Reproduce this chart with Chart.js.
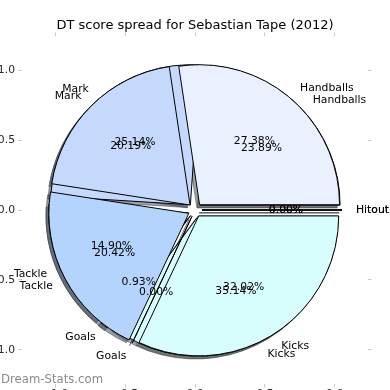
<!DOCTYPE html>
<html><head><meta charset="utf-8">
<style>
html,body{margin:0;padding:0;width:390px;height:390px;overflow:hidden;background:#fff;}
#wrap{position:absolute;left:-20px;top:0;width:430px;height:410px;}
</style>
<script src="https://cdn.jsdelivr.net/npm/chart.js@4/dist/chart.umd.min.js"></script>
</head><body><div id="wrap"><canvas id="c" width="430" height="410"></canvas></div>
<script>
const chartTitle = 'DT score spread for Sebastian Tape (2012)';
const categories = ['Handballs', 'Mark', 'Tackle', 'Goals', 'Kicks', 'Hitout'];
const seriesA = [27.38, 20.19, 20.42, 0.00, 32.02, 0.00];
const seriesB = [23.89, 25.14, 14.90, 0.93, 35.14, 0.00];
const sliceColors = ['#e9f1fe', '#c5d9fd', '#b4d4fd', '#c9e4fd', '#d8fdfd', '#e4e4fb'];
const explodeBy = [0.05, 0.05, 0.05, 0.05, 0.05, 0.05];
const tickValues = [-1, -0.5, 0, 0.5, 1];
const tickLabels = ['\u22121.0', '\u22120.5', '0.0', '0.5', '1.0'];
const axisLimitX = 1.236;
const axisLimitY = 1.243;
const watermark = 'Dream-Stats.com';

const FONT = '"DejaVu Sans", sans-serif';
const FS = 10.8;

function wedges(values) {
  const total = values.reduce((a, b) => a + b, 0);
  const norm = total > 1 ? total : 1;
  let t = 0;
  return values.map((v, i) => {
    const f = v / norm;
    const t1 = t, t2 = t + 2 * Math.PI * f;
    t = t2;
    const mid = (t1 + t2) / 2;
    return { i, f, t1, t2, mid, ox: explodeBy[i] * Math.cos(mid), oy: explodeBy[i] * Math.sin(mid) };
  });
}

function wedgePath(ctx, xs, ys, w, dx, dy) {
  const cx = xs.getPixelForValue(w.ox + dx), cy = ys.getPixelForValue(w.oy + dy);
  const rx = xs.getPixelForValue(w.ox + dx + 1) - cx;
  const ry = cy - ys.getPixelForValue(w.oy + dy + 1);
  ctx.beginPath();
  ctx.moveTo(cx, cy);
  if (w.t2 > w.t1) ctx.ellipse(cx, cy, rx, ry, 0, -w.t1, -w.t2, true);
  else ctx.lineTo(cx + rx * Math.cos(w.t1), cy - ry * Math.sin(w.t1));
  ctx.closePath();
}

function shadowColor(hex) {
  const n = parseInt(hex.slice(1), 16);
  const r = ((n >> 16) & 255) * 0.3, g = ((n >> 8) & 255) * 0.3, b = (n & 255) * 0.3;
  return `rgba(${r.toFixed(0)},${g.toFixed(0)},${b.toFixed(0)},0.5)`;
}

const piePlugin = {
  id: 'pies',
  afterDatasetsDraw(chart) {
    const ctx = chart.ctx, xs = chart.scales.x, ys = chart.scales.y;
    const pies = [seriesB, seriesA].map(wedges);
    ctx.save();
    ctx.lineJoin = 'miter';
    ctx.lineWidth = 1;
    for (const p of pies) for (const w of p) {
      wedgePath(ctx, xs, ys, w, -0.02, -0.02);
      const sc = shadowColor(sliceColors[w.i]);
      ctx.fillStyle = sc; ctx.fill();
      ctx.strokeStyle = sc; ctx.stroke();
    }
    for (const p of pies) for (const w of p) {
      wedgePath(ctx, xs, ys, w, 0, 0);
      ctx.fillStyle = sliceColors[w.i]; ctx.fill();
      ctx.strokeStyle = '#000'; ctx.stroke();
    }
    ctx.font = `${FS}px ${FONT}`;
    ctx.fillStyle = '#000';
    ctx.textBaseline = 'alphabetic';
    for (const p of pies) for (const w of p) {
      const lx = w.ox + 1.1 * Math.cos(w.mid), ly = w.oy + 1.1 * Math.sin(w.mid);
      ctx.textAlign = lx > 0 ? 'left' : 'right';
      ctx.fillText(categories[w.i], xs.getPixelForValue(lx), ys.getPixelForValue(ly) + 0.276 * FS);
      const px = w.ox + 0.6 * Math.cos(w.mid), py = w.oy + 0.6 * Math.sin(w.mid);
      ctx.textAlign = 'center';
      ctx.fillText((w.f * 100).toFixed(2) + '%', xs.getPixelForValue(px), ys.getPixelForValue(py) + 0.276 * FS);
    }
    ctx.restore();
  },
  afterDraw(chart) {
    const ctx = chart.ctx;
    ctx.save();
    ctx.font = `11.7px ${FONT}`;
    ctx.fillStyle = '#8a8a8a';
    ctx.textAlign = 'left';
    ctx.textBaseline = 'alphabetic';
    ctx.fillText(watermark, chart.chartArea.left - 21, chart.chartArea.bottom - 1);
    ctx.restore();
  }
};

function axisCfg(axis, position, showLabels, size, lim) {
  return {
    type: 'linear', axis, position, min: -lim, max: lim,
    grid: { display: true, drawOnChartArea: false, drawTicks: true, tickLength: 3.5, tickColor: '#c8c8c8', tickWidth: 1, lineWidth: 1 },
    border: { display: false },
    ticks: {
      display: showLabels, autoSkip: false, maxRotation: 0, padding: axis === 'x' ? 0 : 3.5,
      font: { family: FONT, size: FS }, color: '#262626',
      callback: (v) => { const k = tickValues.indexOf(v); return k >= 0 ? tickLabels[k] : ''; }
    },
    afterBuildTicks: (s) => { s.ticks = tickValues.map(v => ({ value: v })); },
    afterFit: (s) => {
      if (axis === 'x') { s.height = size; s.paddingLeft = 0; s.paddingRight = 0; }
      else { s.width = size; s.paddingTop = 0; s.paddingBottom = 0; }
    }
  };
}

new Chart(document.getElementById('c'), {
  type: 'scatter',
  data: { datasets: [] },
  options: {
    responsive: false, animation: false, devicePixelRatio: 1,
    layout: { padding: 0 },
    plugins: {
      legend: { display: false }, tooltip: { enabled: false },
      title: {
        display: true, text: chartTitle, color: '#000',
        font: { family: FONT, size: 13, weight: 'normal', lineHeight: 1.2 },
        padding: { top: 17.7, bottom: 0 }
      }
    },
    scales: {
      x: axisCfg('x', 'bottom', true, 26, axisLimitX),
      x2: axisCfg('x', 'top', false, 2.7, axisLimitX),
      y: axisCfg('y', 'left', true, 42, axisLimitY),
      y2: axisCfg('y', 'right', false, 42, axisLimitY)
    }
  },
  plugins: [piePlugin]
});
</script></body></html>
